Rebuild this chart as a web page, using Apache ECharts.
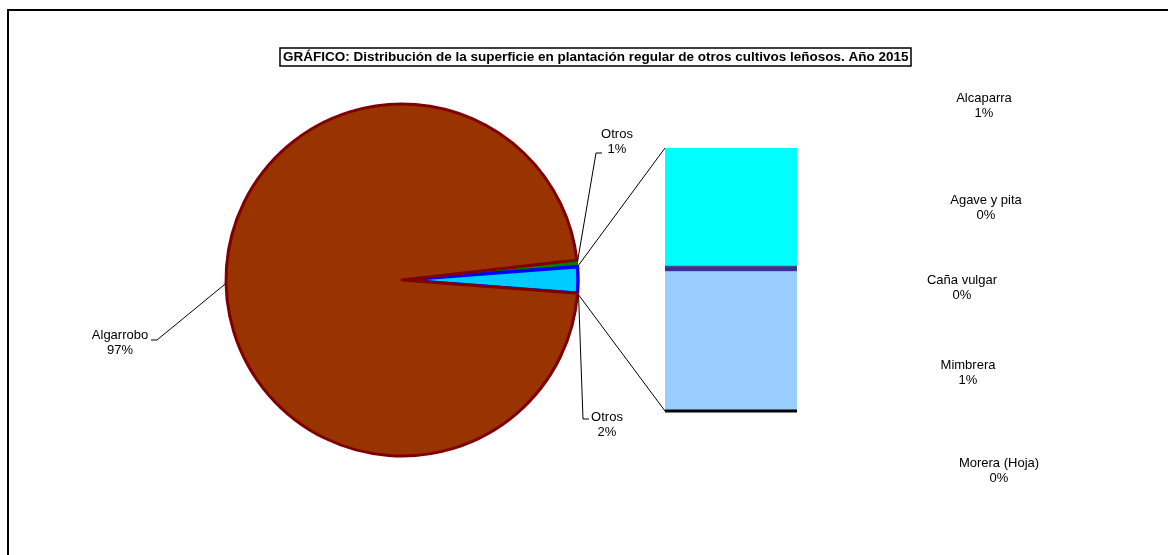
<!DOCTYPE html>
<html>
<head>
<meta charset="utf-8">
<script src="https://cdn.jsdelivr.net/npm/echarts@6/dist/echarts.min.js"></script>
<style>
  html, body { margin: 0; padding: 0; background: #fff; }
  #chart { width: 1168px; height: 555px; }
</style>
</head>
<body>
<div id="chart"></div>
<script>
// pie: main slices (the "Otros" cyan slice is the sum of the bar items)
const pieNames = ['Otros', 'Algarrobo'];
const pieValues = [0.6, 97.0];
const pieColors = ['#008000', '#993300'];
const pieBorders = ['#008000', '#800000'];

// bar of pie: items grouped in the cyan "Otros" slice (bottom to top)
const barNames = ['Morera (Hoja)', 'Mimbrera', 'Caña vulgar', 'Agave y pita', 'Alcaparra'];
const barValues = [0.015, 1.27, 0.045, 0.008, 1.08];
const barColors = ['#000000', '#99CCFF', '#333399', '#000000', '#00FFFF'];

const groupName = 'Otros';
const titleText = 'GRÁFICO: Distribución de la superficie en plantación regular de otros cultivos leñosos. Año 2015';

document.addEventListener("DOMContentLoaded", () => {
    buildChart();
});

function buildChart() {
    const chart = echarts.init(document.getElementById('chart'));
    const font = 'Liberation Sans, Arial, sans-serif';

    const groupValue = barValues.reduce((a, b) => a + b, 0);
    const total = groupValue + pieValues.reduce((a, b) => a + b, 0);
    const pct = v => Math.round(v / total * 100) + '%';

    // pie layout
    const cx = 402, cy = 280, r = 176;
    const groupAngle = groupValue / total * 360;
    const greenAngle = pieValues[0] / total * 360;
    const startAngle = groupAngle / 2 + greenAngle;

    const pieData = [
        { name: pieNames[0], value: pieValues[0], itemStyle: { color: pieColors[0], borderColor: pieBorders[0], borderWidth: 1.5 } },
        { name: groupName, value: groupValue, itemStyle: { color: '#00CCFF', borderColor: '#0000FF', borderWidth: 3.5 } },
        { name: pieNames[1], value: pieValues[1], itemStyle: { color: pieColors[1], borderColor: pieBorders[1], borderWidth: 3 } }
    ];

    // label spots for the pie (layout only)
    const pieLabelSpots = [
        { x: 617, y: 127, line: [[596, 153], [602, 153]] },
        { x: 607, y: 410, line: [[583, 419], [589, 419]] },
        { x: 120, y: 328, line: [[157, 340], [151, 340]] }
    ];
    // label spots for the bar items (bottom to top)
    const barLabelSpots = [
        { x: 999, y: 456 },
        { x: 968, y: 358 },
        { x: 962, y: 273 },
        { x: 986, y: 193 },
        { x: 984, y: 91 }
    ];

    const gridLeft = 665, gridTop = 148, gridWidth = 132, gridHeight = 263;

    const barSeries = barNames.map((name, i) => ({
        type: 'bar',
        name: name,
        stack: 'otros',
        data: [barValues[i]],
        barWidth: '100%',
        itemStyle: { color: barColors[i] },
        label: {
            show: true,
            position: 'inside',
            formatter: () => name + '\n' + pct(barValues[i]),
            color: '#000',
            fontFamily: font,
            fontSize: 13,
            lineHeight: 15,
            align: 'center'
        },
        labelLayout: () => ({
            x: barLabelSpots[i].x,
            y: barLabelSpots[i].y,
            align: 'center',
            verticalAlign: 'top'
        }),
        silent: true,
        animation: false
    }));

    const option = {
        animation: false,
        title: {
            text: titleText,
            left: 280,
            top: 48,
            padding: [2, 3, 2, 3],
            borderColor: '#000',
            borderWidth: 1.5,
            textStyle: {
                fontFamily: font,
                fontSize: 13.5,
                fontWeight: 'bold',
                color: '#000'
            }
        },
        grid: { left: gridLeft, top: gridTop, width: gridWidth, height: gridHeight },
        xAxis: { type: 'category', data: [groupName], show: false },
        yAxis: { type: 'value', min: 0, max: groupValue, show: false },
        series: [
            {
                type: 'pie',
                center: [cx, cy],
                radius: r,
                startAngle: startAngle,
                clockwise: true,
                data: pieData,
                label: {
                    show: true,
                    position: 'outside',
                    formatter: p => p.name + '\n' + pct(p.value),
                    color: '#000',
                    fontFamily: font,
                    fontSize: 13,
                    lineHeight: 15,
                    align: 'center'
                },
                labelLine: {
                    show: true,
                    length: 10,
                    length2: 5,
                    lineStyle: { color: '#000', width: 1 }
                },
                labelLayout: params => {
                    const s = pieLabelSpots[params.dataIndex];
                    const p0 = params.labelLinePoints ? params.labelLinePoints[0] : s.line[0];
                    return {
                        x: s.x,
                        y: s.y,
                        align: 'center',
                        verticalAlign: 'top',
                        labelLinePoints: [p0, s.line[0], s.line[1]]
                    };
                },
                emphasis: { disabled: true },
                silent: true
            }
        ].concat(barSeries)
    };

    chart.setOption(option);

    // connector lines from the grouped slice to the bar
    const a1 = (startAngle - greenAngle) * Math.PI / 180;
    const a2 = (startAngle - greenAngle - groupAngle) * Math.PI / 180;
    const yTop = chart.convertToPixel({ yAxisIndex: 0 }, groupValue);
    const yBottom = chart.convertToPixel({ yAxisIndex: 0 }, 0);
    const p1 = [cx + r * Math.cos(a1), cy - r * Math.sin(a1)];
    const p2 = [cx + r * Math.cos(a2), cy - r * Math.sin(a2)];

    chart.setOption({
        graphic: [
            {
                type: 'rect',
                shape: { x: 8, y: 10, width: 1300, height: 700 },
                style: { fill: null, stroke: '#000', lineWidth: 2 },
                silent: true
            },
            {
                type: 'line',
                shape: { x1: p1[0], y1: p1[1], x2: gridLeft, y2: yTop },
                style: { stroke: '#000', lineWidth: 1 },
                silent: true
            },
            {
                type: 'line',
                shape: { x1: p2[0], y1: p2[1], x2: gridLeft, y2: yBottom },
                style: { stroke: '#000', lineWidth: 1 },
                silent: true
            },
            {
                type: 'line',
                shape: { x1: gridLeft, y1: yBottom + 0.5, x2: gridLeft + gridWidth, y2: yBottom + 0.5 },
                style: { stroke: '#000', lineWidth: 2 },
                silent: true
            }
        ]
    });
}
</script>
</body>
</html>
